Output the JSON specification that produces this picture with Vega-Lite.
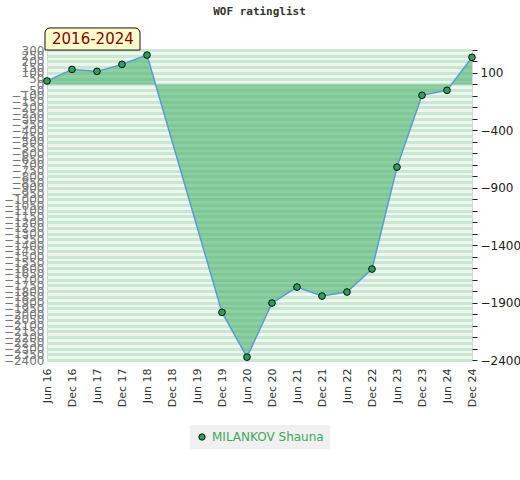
{
  "$schema": "https://vega.github.io/schema/vega-lite/v6.json",
  "autosize": "none",
  "width": 425,
  "height": 310,
  "padding": {"left": 47, "top": 50, "right": 48, "bottom": 120},
  "background": "white",
  "title": {
    "text": "WOF ratinglist",
    "font": "DejaVu Sans Mono",
    "fontSize": 11,
    "fontWeight": "bold",
    "color": "#333",
    "offset": 10
  },
  "datasets": {
    "ratings": [
      {"period": "Jun 16", "rating": 30, "player": "MILANKOV Shauna"},
      {"period": "Dec 16", "rating": 131, "player": "MILANKOV Shauna"},
      {"period": "Jun 17", "rating": 114, "player": "MILANKOV Shauna"},
      {"period": "Dec 17", "rating": 175, "player": "MILANKOV Shauna"},
      {"period": "Jun 18", "rating": 256, "player": "MILANKOV Shauna"},
      {"period": "Dec 19", "rating": -1985, "player": "MILANKOV Shauna"},
      {"period": "Jun 20", "rating": -2375, "player": "MILANKOV Shauna"},
      {"period": "Dec 20", "rating": -1904, "player": "MILANKOV Shauna"},
      {"period": "Jun 21", "rating": -1765, "player": "MILANKOV Shauna"},
      {"period": "Dec 21", "rating": -1843, "player": "MILANKOV Shauna"},
      {"period": "Jun 22", "rating": -1808, "player": "MILANKOV Shauna"},
      {"period": "Dec 22", "rating": -1608, "player": "MILANKOV Shauna"},
      {"period": "Jun 23", "rating": -720, "player": "MILANKOV Shauna"},
      {"period": "Dec 23", "rating": -95, "player": "MILANKOV Shauna"},
      {"period": "Jun 24", "rating": -51, "player": "MILANKOV Shauna"},
      {"period": "Dec 24", "rating": 236, "player": "MILANKOV Shauna"}
    ],
    "badge": [
      {"from": "Jun 16", "to": "Dec 17", "lo": 300, "hi": 492, "mid": 396, "label": "2016-2024"}
    ]
  },
  "layer": [
    {
      "data": {"name": "ratings"},
      "mark": {
        "type": "area",
        "fill": "#4cb370",
        "fillOpacity": 0.6,
        "line": {"color": "#5b9bd5", "strokeWidth": 1.5}
      },
      "encoding": {
        "x": {
          "field": "period",
          "type": "ordinal",
          "scale": {
            "type": "point",
            "padding": 0,
            "domain": ["Jun 16", "Dec 16", "Jun 17", "Dec 17", "Jun 18", "Dec 18", "Jun 19", "Dec 19", "Jun 20", "Dec 20", "Jun 21", "Dec 21", "Jun 22", "Dec 22", "Jun 23", "Dec 23", "Jun 24", "Dec 24"]
          },
          "axis": {
            "title": null,
            "labelAngle": -90,
            "labelFont": "DejaVu Sans",
            "labelFontSize": 11,
            "labelColor": "#333",
            "labelPadding": 8,
            "domain": false,
            "ticks": false,
            "grid": false
          }
        },
        "y": {
          "field": "rating",
          "type": "quantitative",
          "scale": {"domain": [-2400, 300], "nice": false, "zero": false},
          "axis": {
            "title": null,
            "orient": "left",
            "format": "d",
            "values": [300, 250, 200, 150, 100, 50, 0, -50, -100, -150, -200, -250, -300, -350, -400, -450, -500, -550, -600, -650, -700, -750, -800, -850, -900, -950, -1000, -1050, -1100, -1150, -1200, -1250, -1300, -1350, -1400, -1450, -1500, -1550, -1600, -1650, -1700, -1750, -1800, -1850, -1900, -1950, -2000, -2050, -2100, -2150, -2200, -2250, -2300, -2350, -2400],
            "labelOverlap": false,
            "labelFont": "DejaVu Sans",
            "labelFontSize": 12,
            "labelColor": "#777",
            "labelPadding": 3,
            "ticks": false,
            "domain": false,
            "grid": true,
            "gridColor": "#c9e7d1",
            "gridWidth": 3,
            "gridOpacity": 1
          }
        },
        "y2": {"datum": 0}
      }
    },
    {
      "mark": {"type": "rule", "color": "#33a35a", "strokeWidth": 1.5},
      "encoding": {
        "y": {"datum": 0, "type": "quantitative", "axis": null}
      }
    },
    {
      "data": {"name": "ratings"},
      "mark": {"type": "point", "filled": true, "size": 45, "stroke": "#111", "strokeWidth": 1, "opacity": 1},
      "encoding": {
        "x": {"field": "period", "type": "ordinal"},
        "y": {
          "field": "rating",
          "type": "quantitative",
          "axis": {
            "title": null,
            "orient": "right",
            "format": "d",
            "values": [300, 200, 100, 0, -100, -200, -300, -400, -500, -600, -700, -800, -900, -1000, -1100, -1200, -1300, -1400, -1500, -1600, -1700, -1800, -1900, -2000, -2100, -2200, -2300, -2400],
            "labelExpr": "(datum.value - 100) % 500 == 0 ? datum.label : ''",
            "labelOverlap": false,
            "labelFont": "DejaVu Sans",
            "labelFontSize": 12,
            "labelColor": "#222",
            "labelPadding": 3,
            "tickSize": 5,
            "tickColor": "#222",
            "domain": false,
            "grid": false
          }
        },
        "color": {
          "field": "player",
          "type": "nominal",
          "scale": {"range": ["#2e9e5b"]},
          "legend": {
            "title": null,
            "orient": "bottom",
            "fillColor": "#f0f0f0",
            "padding": 6,
            "labelColor": "#3aaa5e",
            "labelFont": "DejaVu Sans",
            "labelFontSize": 12,
            "symbolType": "circle",
            "symbolSize": 40,
            "symbolStrokeColor": "#111",
            "symbolStrokeWidth": 1
          }
        }
      }
    },
    {
      "data": {"name": "badge"},
      "mark": {
        "type": "rect",
        "fill": "#ffffcc",
        "stroke": "#111",
        "strokeWidth": 1,
        "cornerRadiusTopLeft": 5,
        "cornerRadiusTopRight": 5,
        "x2Offset": 18,
        "xOffset": -2
      },
      "encoding": {
        "x": {"field": "from", "type": "ordinal"},
        "x2": {"field": "to"},
        "y": {"field": "lo", "type": "quantitative", "axis": null},
        "y2": {"field": "hi"}
      }
    },
    {
      "data": {"name": "badge"},
      "mark": {
        "type": "text",
        "align": "left",
        "baseline": "middle",
        "dx": 5,
        "font": "DejaVu Sans",
        "fontSize": 15,
        "color": "#8b0000"
      },
      "encoding": {
        "x": {"field": "from", "type": "ordinal"},
        "y": {"field": "mid", "type": "quantitative", "axis": null},
        "text": {"field": "label"}
      }
    }
  ],
  "resolve": {"axis": {"y": "independent"}},
  "config": {
    "view": {"fill": "#edf7ef", "stroke": "#d6d6d6"},
    "legend": {"layout": {"bottom": {"anchor": "middle"}}}
  }
}
